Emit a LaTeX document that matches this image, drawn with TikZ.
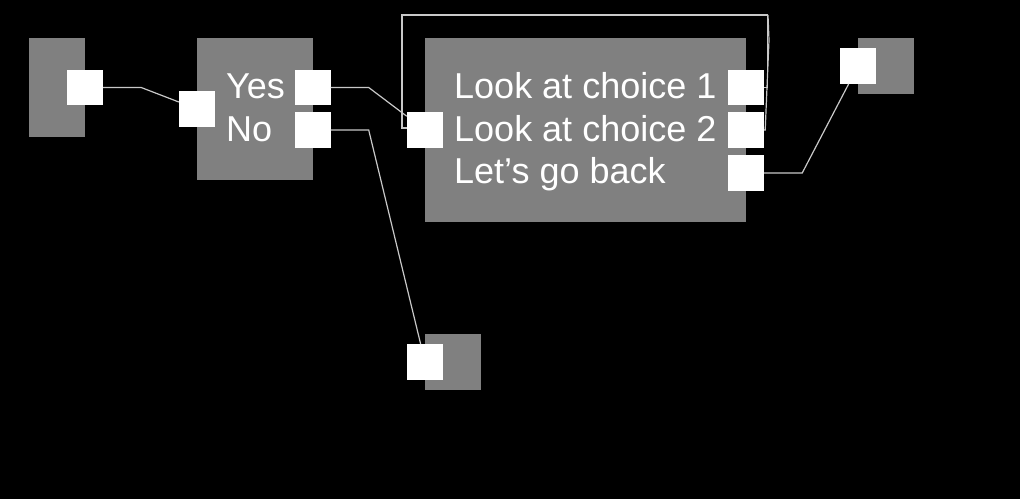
\documentclass[tikz,border=0pt]{standalone}
\usepackage{fontspec}
\setmainfont{Liberation Sans}
\definecolor{boxgray}{RGB}{128,128,128}
\definecolor{wiregray}{RGB}{200,200,200}
\tikzset{
	block/.style={fill=boxgray, inner sep=0pt, anchor=north west},
	port/.style={fill=white, inner sep=0pt, minimum width=36pt, minimum height=35.5pt},
	wire/.style={wiregray, line width=1.2pt},
	label/.style={white, anchor=base west, inner sep=0pt, font=\fontsize{36}{42}\selectfont}
}
\begin{document}
\begin{tikzpicture}[x=1pt, y=-1pt]
		\fill[black] (0,0) rectangle (1020,499);
		\useasboundingbox (0,0) rectangle (1020,499);

		% blocks
		\node[block, minimum width=56pt, minimum height=99pt] (start) at (29,38) {};
		\node[block, minimum width=116pt, minimum height=142pt] (ask) at (197,38) {};
		\node[block, minimum width=321pt, minimum height=184pt] (menu) at (425,38) {};
		\node[block, minimum width=56pt, minimum height=56pt] (stop) at (425,334) {};
		\node[block, minimum width=56pt, minimum height=56pt] (back) at (858,38) {};

		% texts
		\node[label] (yes) at (226,98.5) {Yes};
		\node[label] (no) at (226,141) {No};
		\node[label] (ch1) at (454,98.5) {Look at choice 1};
		\node[label] (ch2) at (454,141) {Look at choice 2};
		\node[label] (goback) at (454,183.5) {Let’s go back};

		% ports
		\node[port] (start-out) at (85,87.5) {};
		\node[port] (ask-in) at (197,109) {};
		\node[port] (yes-out) at (312.5,87.5) {};
		\node[port] (no-out) at (312.5,130) {};
		\node[port] (menu-in) at (425,130) {};
		\node[port] (ch1-out) at (746,87.5) {};
		\node[port] (ch2-out) at (746,130) {};
		\node[port] (goback-out) at (746,173) {};
		\node[port] (stop-in) at (425,362) {};
		\node[port] (back-in) at (858,66) {};

		% wires
		\coordinate (loop-ne) at (768,15);
		\coordinate (loop-nw) at (402,15);
		\draw[wire] (start-out.east) -- ++(38,0) -- (ask-in);
		\draw[wire] (yes-out.east) -- ++(38,0) -- (menu-in);
		\draw[wire] (no-out.east) -- ++(38,0) -- (stop-in);
		\draw[wire] (goback-out.east) -- ++(38,0) -- (back-in);
		\draw[wire] (ch1-out.east) -- ++(3,0) |- (loop-nw) |- ([yshift=2pt]menu-in.west);
		\draw[wire] (ch2-out.east) -- ++(1,0) -- ([xshift=1pt, yshift=-25pt]loop-ne) -- (loop-ne);
	\end{tikzpicture}
\end{document}
